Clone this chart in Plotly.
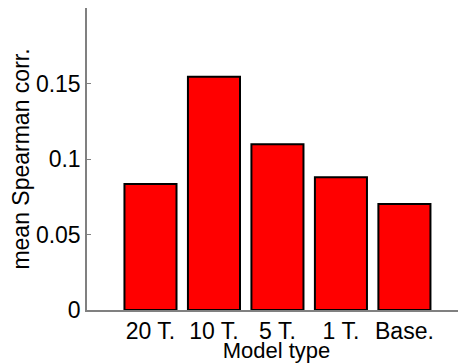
import plotly.graph_objects as go

categories = ["20 T.", "10 T.", "5 T.", "1 T.", "Base."]
positions = [1, 2, 3, 4, 5]
values = [0.0834, 0.1545, 0.1097, 0.0879, 0.0702]
y_ticks = [0, 0.05, 0.1, 0.15]
y_tick_labels = ["0", "0.05", "0.1", "0.15"]

fig = go.Figure(
    go.Bar(
        x=positions,
        y=values,
        width=0.82,
        marker=dict(color="#ff0000", line=dict(color="black", width=2)),
    )
)

font = dict(family="Liberation Sans, Arial, sans-serif", size=23, color="black")
xtitle_font = dict(family="Liberation Sans, Arial, sans-serif", size=22, color="black")

# the page body adds an 8px offset; the figure is sized to compensate
fig.update_layout(
    width=458,
    height=355,
    margin=dict(l=79, r=0, t=0, b=53, autoexpand=False),
    paper_bgcolor="white",
    plot_bgcolor="white",
    font=font,
    showlegend=False,
    xaxis=dict(
        range=[0, 5.97],
        tickmode="array",
        tickvals=positions,
        ticktext=categories,
        showline=True,
        linecolor="#808080",
        linewidth=1.5,
        ticks="",
        showgrid=False,
        zeroline=False,
        automargin=False,
        title=dict(text="Model type", standoff=0, font=xtitle_font),
        tickfont=font,
    ),
    yaxis=dict(
        range=[0, 0.2],
        tickmode="array",
        tickvals=y_ticks,
        ticktext=y_tick_labels,
        showline=True,
        linecolor="#808080",
        linewidth=1.5,
        ticks="inside",
        ticklen=4,
        tickcolor="#808080",
        showgrid=False,
        zeroline=False,
        automargin=False,
        title=dict(text="mean Spearman corr.", standoff=4, font=font),
        tickfont=font,
    ),
)

fig.write_html("out.html")
